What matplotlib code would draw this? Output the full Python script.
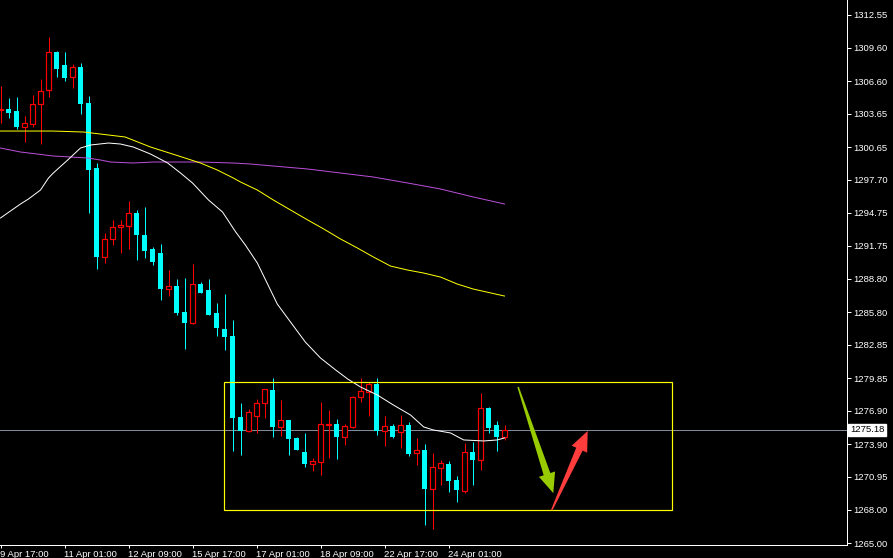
import numpy as np
import matplotlib
matplotlib.use('Agg')
import matplotlib.pyplot as plt
from matplotlib.patches import Polygon, Rectangle

# H4 candles, oldest first
opens = [1304.00, 1304.09, 1303.90, 1302.46, 1302.73, 1304.53, 1305.79, 1309.22, 1308.05, 1306.97,
         1307.87, 1304.62, 1298.77, 1290.76, 1292.38, 1293.46, 1293.55, 1294.72, 1292.74, 1291.48,
         1291.12, 1287.87, 1288.14, 1285.80, 1284.81, 1288.32, 1287.78, 1285.71, 1284.27, 1283.64,
         1276.35, 1275.09, 1276.44, 1277.61, 1278.78, 1275.45, 1276.08, 1274.46, 1273.21, 1272.12,
         1272.30, 1275.66, 1275.72, 1274.55, 1275.45, 1278.15, 1278.60, 1279.32, 1275.09, 1275.54,
         1275.00, 1275.63, 1273.12, 1273.38, 1269.86, 1271.76, 1272.12, 1270.67, 1269.68, 1273.21,
         1272.48, 1277.16, 1275.63, 1274.55]
highs = [1306.16, 1305.08, 1305.17, 1303.45, 1305.35, 1306.79, 1310.57, 1309.31, 1309.22, 1308.14,
         1308.23, 1305.26, 1299.22, 1292.92, 1294.09, 1294.09, 1295.80, 1294.99, 1295.26, 1291.66,
         1291.93, 1289.58, 1288.78, 1288.87, 1290.13, 1288.50, 1288.78, 1286.61, 1287.42, 1285.08,
         1277.61, 1277.07, 1277.97, 1278.90, 1279.86, 1277.88, 1276.08, 1274.55, 1274.91, 1272.66,
         1277.70, 1276.98, 1276.17, 1275.72, 1278.24, 1279.86, 1279.50, 1279.86, 1276.44, 1275.72,
         1276.53, 1275.90, 1274.46, 1273.92, 1273.12, 1272.48, 1272.39, 1271.04, 1274.01, 1274.10,
         1278.51, 1277.25, 1275.99, 1275.63]
lows = [1302.82, 1303.27, 1302.28, 1301.11, 1302.46, 1300.93, 1305.17, 1306.97, 1306.61, 1305.97,
        1303.63, 1294.72, 1289.67, 1290.22, 1291.84, 1291.12, 1291.48, 1290.49, 1290.67, 1290.04,
        1286.88, 1287.24, 1285.53, 1282.47, 1284.75, 1287.51, 1285.53, 1283.64, 1282.38, 1273.29,
        1272.94, 1275.00, 1274.91, 1276.26, 1274.55, 1274.64, 1272.94, 1273.38, 1271.85, 1271.49,
        1271.13, 1272.66, 1272.57, 1273.83, 1275.36, 1277.70, 1276.44, 1274.73, 1273.74, 1274.46,
        1273.56, 1272.85, 1272.03, 1266.62, 1266.26, 1270.22, 1269.59, 1268.69, 1269.50, 1270.22,
        1271.58, 1274.91, 1273.29, 1274.28]
closes = [1304.09, 1303.72, 1302.46, 1302.82, 1304.53, 1305.70, 1309.22, 1307.69, 1306.88, 1307.87,
          1304.53, 1298.59, 1290.76, 1292.38, 1293.46, 1293.64, 1294.72, 1292.74, 1291.30, 1290.31,
          1287.87, 1288.14, 1285.71, 1284.81, 1288.32, 1287.51, 1285.53, 1284.36, 1283.55, 1276.26,
          1275.09, 1276.80, 1277.61, 1278.87, 1275.45, 1276.08, 1274.37, 1273.38, 1272.12, 1272.39,
          1275.72, 1275.72, 1274.55, 1275.54, 1278.15, 1278.69, 1279.32, 1275.09, 1275.54, 1274.55,
          1275.63, 1273.03, 1273.38, 1269.86, 1271.85, 1272.21, 1270.58, 1269.77, 1273.21, 1272.48,
          1277.16, 1275.36, 1274.55, 1275.18]

time_pos = [0, 8, 16, 24, 32, 40, 48, 56]
time_labels = ['9 Apr 17:00', '11 Apr 01:00', '12 Apr 09:00', '15 Apr 17:00',
               '17 Apr 01:00', '18 Apr 09:00', '22 Apr 17:00', '24 Apr 01:00']

price_ticks = [1312.55, 1309.60, 1306.60, 1303.65, 1300.65, 1297.70, 1294.75, 1291.75, 1288.80,
               1285.80, 1282.85, 1279.85, 1276.90, 1273.90, 1270.95, 1268.00, 1265.00]

# moving averages (candle index, price)
fast_x = [0, 2.5, 3.5, 5, 6, 6.6, 8.4, 10, 11.25, 13.5, 15, 16.6, 18.75, 20.9, 22.5, 24, 26, 27.75,
          29.4, 30.6, 32.1, 34.6, 36.25, 38.1, 40, 41.9, 43.4, 45, 47.1, 49.1, 51.25, 52.9, 54.1,
          56.25, 57.9, 60.4, 62.1, 63]
fast_y = [1294.27, 1295.53, 1295.98, 1296.79, 1297.87, 1298.32, 1299.49, 1300.57, 1300.84, 1301.02,
          1300.93, 1300.66, 1300.03, 1299.22, 1298.32, 1297.42, 1295.89, 1294.81, 1293.01, 1291.84,
          1290.22, 1286.52, 1284.90, 1283.10, 1281.66, 1280.58, 1279.77, 1279.05, 1278.33, 1277.43,
          1276.53, 1275.45, 1275.18, 1274.91, 1274.28, 1274.19, 1274.28, 1274.46]
mid_x = [0, 6.5, 10.4, 12.5, 15.6, 18.75, 21.9, 25, 27.1, 29.1, 30, 32.1, 34.1, 36.25, 38.4, 40.4,
         42.5, 44.6, 46.6, 48.75, 50.9, 52.9, 55, 57.1, 59.1, 63]
mid_y = [1302.10, 1302.10, 1302.01, 1301.83, 1301.56, 1300.66, 1299.94, 1299.22, 1298.59, 1297.87,
         1297.51, 1296.79, 1295.89, 1294.99, 1294.09, 1293.28, 1292.38, 1291.57, 1290.76, 1289.94,
         1289.58, 1289.31, 1288.95, 1288.32, 1287.87, 1287.24]
slow_x = [0, 2.5, 4.6, 6.6, 8.75, 10.9, 12.5, 13.75, 16.6, 19.1, 21.6, 25, 29.1, 31.25, 34.1, 38.4,
          42.5, 46.6, 50.9, 55, 59.1, 63]
slow_y = [1300.57, 1300.21, 1300.03, 1299.85, 1299.76, 1299.67, 1299.49, 1299.31, 1299.22, 1299.31,
          1299.31, 1299.31, 1299.22, 1299.13, 1298.95, 1298.68, 1298.32, 1297.96, 1297.42, 1296.88,
          1296.16, 1295.53]

last_price = 1275.18
range_box = (27.94, 83.94, 1267.97, 1279.50)  # x0, x1, low, high


def tapered_arrow(ax, p0, p1, color, w0=1.5, w1=7.0, head_w=17.0, head_len=20.0):
    a = ax.transData.transform(p0)
    b = ax.transData.transform(p1)
    u = (b - a) / np.hypot(*(b - a))
    n = np.array([-u[1], u[0]])
    base = b - u * head_len
    pts = [a + n * w0 / 2, base + n * w1 / 2, base + n * head_w / 2, b,
           base - n * head_w / 2, base - n * w1 / 2, a - n * w0 / 2]
    pts = ax.transData.inverted().transform(np.array(pts))
    ax.add_patch(Polygon(pts, closed=True, facecolor=color, edgecolor='none', zorder=6))


W, H = 893, 558
fig = plt.figure(figsize=(W / 100, H / 100), dpi=100, facecolor='black')
ax = fig.add_axes([0, 13 / H, 847 / W, 545 / H])
ax.set_facecolor('black')
ax.set_xlim(-0.0625, 105.8125)
ax.set_ylim(1264.82, 1313.90)

idx = np.arange(len(opens))
o = np.array(opens); c = np.array(closes)
up = c >= o
px = 0.72  # one pixel in points

ax.vlines(idx[up], np.array(lows)[up], np.array(highs)[up], color='#ff0000', lw=px, zorder=2)
ax.vlines(idx[~up], np.array(lows)[~up], np.array(highs)[~up], color='#00ffff', lw=px, zorder=2)
ax.bar(idx[up], np.maximum(c[up] - o[up], 0.04), bottom=o[up], width=0.54,
       facecolor='black', edgecolor='#ff0000', linewidth=px * 1.2, zorder=3)
ax.bar(idx[~up], o[~up] - c[~up], bottom=c[~up], width=0.64,
       color='#00ffff', linewidth=0, zorder=3)

ax.plot(slow_x, slow_y, color='#b94fd8', lw=px, zorder=4)
ax.plot(mid_x, mid_y, color='#ffff00', lw=px, zorder=4)
ax.plot(fast_x, fast_y, color='#ffffff', lw=px, zorder=4)

ax.axhline(last_price, color='#7f8b98', lw=px, zorder=1)
x0, x1, lo, hi = range_box
ax.add_patch(Rectangle((x0, lo), x1 - x0, hi - lo, fill=False, edgecolor='#ffff00', lw=px * 1.2, zorder=5))

tapered_arrow(ax, (64.7, 1279.05), (69.1, 1269.49), '#99cc00')
tapered_arrow(ax, (68.9, 1267.96), (73.4, 1275.09), '#ff3d3d')

for s in ['left', 'top']:
    ax.spines[s].set_visible(False)
for s in ['right', 'bottom']:
    ax.spines[s].set_color('white')
    ax.spines[s].set_linewidth(px)

ax.yaxis.tick_right()
ax.set_yticks(price_ticks)
ax.set_yticklabels(['%.2f' % v for v in price_ticks])
ax.tick_params(axis='y', colors='white', direction='out', length=3, width=px, pad=1.5,
               labelsize=6.8, labelfontfamily='Liberation Sans')
ax.set_xticks(time_pos)
ax.set_xticklabels(time_labels, ha='left')
ax.tick_params(axis='x', colors='white', direction='out', length=2.2, width=px, pad=1.5,
               labelsize=6.8, labelfontfamily='Liberation Sans')

ax.text(1.0 + 3 / 847, last_price, '%.2f' % last_price, transform=ax.get_yaxis_transform(),
        ha='left', va='center', color='black', fontsize=6.8, family='Liberation Sans',
        bbox=dict(boxstyle='square,pad=0.2', facecolor='white', edgecolor='white'),
        zorder=7, clip_on=False)

fig.savefig('out.png', dpi=100, facecolor='black')
